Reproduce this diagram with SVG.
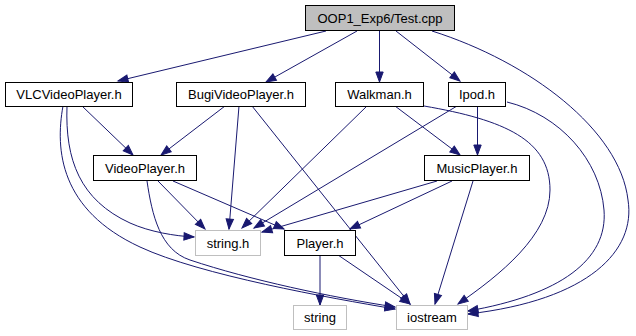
<svg xmlns="http://www.w3.org/2000/svg" width="636" height="336" viewBox="0 0 636 336">
  <style>
    .node rect { fill: #ffffff; stroke: #000000; stroke-width: 1; }
    .node.root rect { fill: #bfbfbf; }
    .node.sys rect { stroke: #bfbfbf; }
    .node text { font-family: "Liberation Sans", Arial, sans-serif; font-size: 13px; fill: #000000; text-anchor: middle; }
    .edges path { fill: none; stroke: #191970; stroke-width: 1; marker-end: url(#arrow); }
  </style>
  <defs>
    <marker id="arrow" markerUnits="userSpaceOnUse" markerWidth="11" markerHeight="9" refX="10" refY="4" orient="auto" overflow="visible">
      <path d="M0,0.3 L10,4 L0,7.7 z" fill="#191970" stroke="#191970" stroke-width="1"/>
    </marker>
  </defs>
  <rect width="636" height="336" fill="#ffffff"/>

  <g class="edges">
    <!-- Test.cpp -->
    <path d="M326,31 L118,81"/>
    <path d="M357,31 L266,82"/>
    <path d="M379.5,31 L379.5,82"/>
    <path d="M396,31 L460,81"/>
    <path d="M432,31 C530,62 620,130 628,200 C636,250 590,300 468,314"/>
    <!-- VLCVideoPlayer.h -->
    <path d="M82,106 L133,155"/>
    <path d="M67,106 C65,160 80,200 130,223 C150,232 175,236 194,237"/>
    <path d="M63,106 C55,150 60,210 140,247 C200,275 330,298 395,309"/>
    <!-- BugiVideoPlayer.h -->
    <path d="M225,106 L161,155"/>
    <path d="M239,106 L229,229"/>
    <path d="M252,106 L410,304"/>
    <!-- Walkman.h -->
    <path d="M367,106 L242,228"/>
    <path d="M395,106 L460,155"/>
    <path d="M424,106 C505,120 550,140 550,190 C550,235 500,275 458,304"/>
    <!-- Ipod.h -->
    <path d="M457,106 L254,228"/>
    <path d="M477.5,106 L477.5,155"/>
    <path d="M507,102 C560,115 600,160 604,210 C608,260 560,295 468,311"/>
    <!-- VideoPlayer.h -->
    <path d="M158,181 L205,229"/>
    <path d="M173,181 L284,229"/>
    <path d="M147,181 C152,215 160,250 190,260 C250,280 330,297 395,307"/>
    <!-- MusicPlayer.h -->
    <path d="M437,181 L262,232"/>
    <path d="M452,181 L350,229"/>
    <path d="M473,181 L435,304"/>
    <!-- Player.h -->
    <path d="M320,255 L320,305"/>
    <path d="M338,255 L410,304"/>
  </g>

  <g id="node-test" class="node root">
    <rect x="305.5" y="5.5" width="149" height="25"/>
    <text x="380" y="22.5">OOP1_Exp6/Test.cpp</text>
  </g>
  <g id="node-vlc" class="node">
    <rect x="5.5" y="82.5" width="127" height="24"/>
    <text x="69" y="99">VLCVideoPlayer.h</text>
  </g>
  <g id="node-bugi" class="node">
    <rect x="176.5" y="82.5" width="129" height="24"/>
    <text x="241" y="99">BugiVideoPlayer.h</text>
  </g>
  <g id="node-walkman" class="node">
    <rect x="335.5" y="82.5" width="88" height="24"/>
    <text x="379.5" y="99">Walkman.h</text>
  </g>
  <g id="node-ipod" class="node">
    <rect x="448.5" y="82.5" width="57" height="24"/>
    <text x="477" y="99">Ipod.h</text>
  </g>
  <g id="node-videoplayer" class="node">
    <rect x="93.5" y="155.5" width="103" height="25"/>
    <text x="145" y="172.5">VideoPlayer.h</text>
  </g>
  <g id="node-musicplayer" class="node">
    <rect x="424.5" y="155.5" width="105" height="25"/>
    <text x="477" y="172.5">MusicPlayer.h</text>
  </g>
  <g id="node-stringh" class="node sys">
    <rect x="195.5" y="230.5" width="65" height="25"/>
    <text x="228" y="247.5">string.h</text>
  </g>
  <g id="node-player" class="node">
    <rect x="284.5" y="230.5" width="71" height="25"/>
    <text x="320" y="247.5">Player.h</text>
  </g>
  <g id="node-string" class="node sys">
    <rect x="293.5" y="305.5" width="53" height="24"/>
    <text x="320" y="322">string</text>
  </g>
  <g id="node-iostream" class="node sys">
    <rect x="396.5" y="305.5" width="71" height="24"/>
    <text x="432" y="322">iostream</text>
  </g>
</svg>
